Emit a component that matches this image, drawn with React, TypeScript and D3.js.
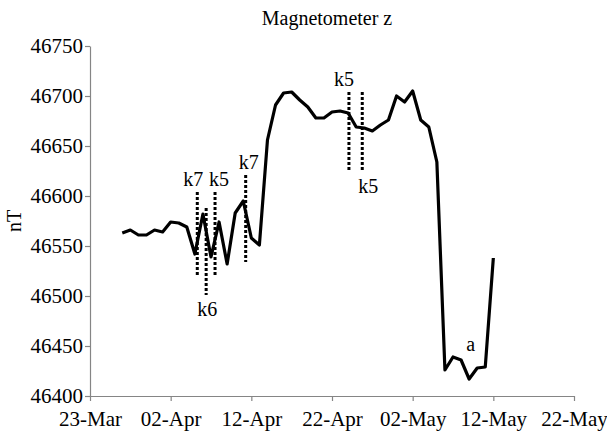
import { useEffect, useRef } from 'react';
import * as d3 from 'd3';

// daily readings, 27-Mar .. 12-May
const dates = [
  '27-Mar', '28-Mar', '29-Mar', '30-Mar', '31-Mar', '01-Apr', '02-Apr', '03-Apr',
  '04-Apr', '05-Apr', '06-Apr', '07-Apr', '08-Apr', '09-Apr', '10-Apr', '11-Apr',
  '12-Apr', '13-Apr', '14-Apr', '15-Apr', '16-Apr', '17-Apr', '18-Apr', '19-Apr',
  '20-Apr', '21-Apr', '22-Apr', '23-Apr', '24-Apr', '25-Apr', '26-Apr', '27-Apr',
  '28-Apr', '29-Apr', '30-Apr', '01-May', '02-May', '03-May', '04-May', '05-May',
  '06-May', '07-May', '08-May', '09-May', '10-May', '11-May', '12-May',
];
const fieldZ = [
  46563, 46566, 46561, 46561, 46566, 46564, 46574, 46573,
  46569, 46542, 46582, 46539, 46574, 46532, 46583, 46595,
  46558, 46551, 46656, 46691, 46703, 46704, 46696, 46689,
  46678, 46678, 46684, 46685, 46683, 46669, 46668, 46665,
  46671, 46676, 46700, 46694, 46705, 46676, 46669, 46634,
  46426, 46439, 46436, 46417, 46428, 46429, 46538,
];

const xTicks = ['23-Mar', '02-Apr', '12-Apr', '22-Apr', '02-May', '12-May', '22-May'];
const yTicks = [46400, 46450, 46500, 46550, 46600, 46650, 46700, 46750];

// storm markers: label, position (days after 23-Mar), value range, label side
const markLabels = ['k7', 'k6', 'k5', 'k7', 'k5', 'k5'];
const markDays = [13.3, 14.4, 15.5, 19.3, 32.1, 33.75];
const markLow = [46519, 46501, 46519, 46534, 46624, 46624];
const markHigh = [46604, 46588, 46604, 46621, 46704, 46704];
const markSide = ['above', 'below', 'above', 'above', 'above', 'below'];
const markShift = [-4, 1, 4, 3, -5, 6];

const noteText = 'a';
const noteDay = 47.2;
const noteValue = 46445;

const parse = d3.timeParse('%d-%b-%Y');
const toDate = (s: string) => parse(s + '-2011') as Date;

export default function App() {
  const svgRef = useRef<SVGSVGElement>(null);

  useEffect(() => {
    const width = 607;
    const height = 434;
    const margin = { top: 46, right: 33, bottom: 38, left: 90 };
    const innerWidth = width - margin.left - margin.right;
    const innerHeight = height - margin.top - margin.bottom;
    const font = "'Liberation Serif', 'DejaVu Serif', serif";

    const svg = d3.select(svgRef.current);
    svg.selectAll('*').remove();
    svg.attr('width', width).attr('height', height);

    const start = toDate(xTicks[0]);
    const x = d3.scaleTime()
      .domain([start, toDate(xTicks[xTicks.length - 1])])
      .range([0, innerWidth]);
    const y = d3.scaleLinear()
      .domain([46400, 46750])
      .range([innerHeight, 0]);
    const dayX = (d: number) => x(start.getTime() + d * 86400000);

    const g = svg.append('g')
      .attr('transform', `translate(${margin.left},${margin.top})`);

    // axes
    const xAxis = d3.axisBottom(x)
      .tickValues(xTicks.map(toDate))
      .tickFormat(d3.timeFormat('%d-%b') as any)
      .tickSize(5)
      .tickSizeOuter(0)
      .tickPadding(10);
    const yAxis = d3.axisLeft(y)
      .tickValues(yTicks)
      .tickFormat(d3.format('d'))
      .tickSize(5)
      .tickSizeOuter(0)
      .tickPadding(2);

    const gx = g.append('g')
      .attr('transform', `translate(0,${innerHeight})`)
      .call(xAxis);
    const gy = g.append('g').call(yAxis);

    [gx, gy].forEach(ax => {
      ax.attr('font-family', null).attr('font-size', null);
      ax.selectAll('path, line').attr('stroke', '#858585').attr('stroke-width', 1.2);
      ax.selectAll('text')
        .attr('fill', '#000')
        .style('font-family', font)
        .style('font-size', '21px');
    });

    // data line
    const line = d3.line<number>()
      .x((d, i) => x(toDate(dates[i])))
      .y(d => y(d));

    g.append('path')
      .datum(fieldZ)
      .attr('fill', 'none')
      .attr('stroke', '#000')
      .attr('stroke-width', 3.2)
      .attr('stroke-linejoin', 'round')
      .attr('d', line);

    const label = (sel: any, size: number) =>
      sel.attr('text-anchor', 'middle')
        .attr('fill', '#000')
        .style('font-family', font)
        .style('font-size', `${size}px`);

    // storm markers
    markLabels.forEach((lab, i) => {
      const mx = dayX(markDays[i]);
      g.append('line')
        .attr('x1', mx).attr('x2', mx)
        .attr('y1', y(markHigh[i])).attr('y2', y(markLow[i]))
        .attr('stroke', '#000')
        .attr('stroke-width', 3)
        .attr('stroke-dasharray', '3,2');
      const ty = markSide[i] === 'above' ? y(markHigh[i]) - 6 : y(markLow[i]) + 21;
      label(g.append('text').attr('x', mx + markShift[i]).attr('y', ty), 20).text(lab);
    });

    label(g.append('text').attr('x', dayX(noteDay)).attr('y', y(noteValue)), 20).text(noteText);

    // title + y label
    label(svg.append('text').attr('x', 327).attr('y', 25), 20).text('Magnetometer z');

    label(svg.append('text')
      .attr('transform', `translate(21,${margin.top + innerHeight / 2}) rotate(-90)`), 20)
      .text('nT');
  }, []);

  return (
    <div style={{ position: 'absolute', left: 0, top: 0, width: 607, height: 434, background: '#fff' }}>
      <svg ref={svgRef} style={{ display: 'block' }}></svg>
    </div>
  );
}
